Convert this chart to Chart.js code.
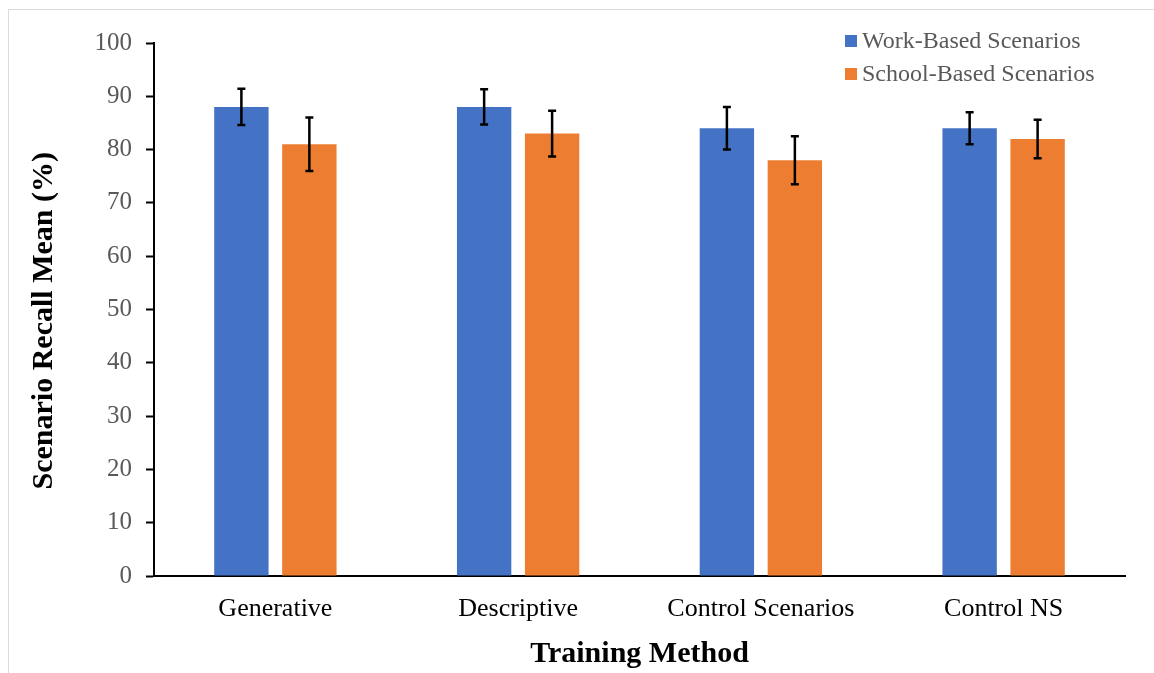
<!DOCTYPE html>
<html>
<head>
<meta charset="utf-8">
<script src="https://cdn.jsdelivr.net/npm/chart.js@4.4.1/dist/chart.umd.min.js"></script>
<style>
  body { margin: 0; background: #fff; }
  #wrap { position: relative; width: 1154px; height: 673px; }
  #frame { position: absolute; left: 8px; top: 9px; right: 0; bottom: 0;
           border-left: 1px solid #dcdcdc; border-top: 1px solid #dcdcdc; pointer-events: none; }
</style>
</head>
<body>
<div id="wrap">
  <canvas id="recallChart" width="1154" height="673"></canvas>
  <div id="frame"></div>
</div>
<script>
var methods = ["Generative", "Descriptive", "Control Scenarios", "Control NS"];
var workMeans = [88, 88, 84, 84];
var workErrors = [3.4, 3.3, 4, 3];
var schoolMeans = [81, 83, 78, 82];
var schoolErrors = [5, 4.3, 4.5, 3.6];
var yTicks = [0, 10, 20, 30, 40, 50, 60, 70, 80, 90, 100];

var serif = "'Liberation Serif', 'Times New Roman', serif";

// error bars drawn on top of each bar using the y scale
var errorBars = {
    id: 'errorBars',
    afterDatasetsDraw: function(chart) {
        var ctx = chart.ctx;
        var yScale = chart.scales.y;
        chart.data.datasets.forEach(function(ds, i) {
            var meta = chart.getDatasetMeta(i);
            meta.data.forEach(function(bar, j) {
                var v = ds.data[j], e = ds.errors[j];
                var top = yScale.getPixelForValue(v + e);
                var bot = yScale.getPixelForValue(v - e);
                ctx.save();
                ctx.strokeStyle = '#000';
                ctx.lineWidth = 2.5;
                ctx.beginPath();
                ctx.moveTo(bar.x, top); ctx.lineTo(bar.x, bot);
                ctx.moveTo(bar.x - 4, top); ctx.lineTo(bar.x + 4, top);
                ctx.moveTo(bar.x - 4, bot); ctx.lineTo(bar.x + 4, bot);
                ctx.stroke();
                ctx.restore();
            });
        });
    }
};

// legend stacked in the top-right corner of the plot
var cornerLegend = {
    id: 'cornerLegend',
    afterDraw: function(chart) {
        var ctx = chart.ctx;
        var x = chart.chartArea.right - 280;
        var y = 41;
        ctx.save();
        ctx.font = '24px ' + serif;
        ctx.textBaseline = 'middle';
        chart.data.datasets.forEach(function(ds, i) {
            var cy = y + i * 33;
            ctx.fillStyle = ds.backgroundColor;
            ctx.fillRect(x, cy - 6, 12, 12);
            ctx.fillStyle = '#595959';
            ctx.fillText(ds.label, x + 17, cy + 1);
        });
        ctx.restore();
    }
};

new Chart(document.getElementById('recallChart'), {
    type: 'bar',
    data: {
        labels: methods,
        datasets: [
            {
                label: 'Work-Based Scenarios',
                data: workMeans,
                errors: workErrors,
                backgroundColor: '#4472C4',
                categoryPercentage: 0.56,
                barPercentage: 0.8
            },
            {
                label: 'School-Based Scenarios',
                data: schoolMeans,
                errors: schoolErrors,
                backgroundColor: '#ED7D31',
                categoryPercentage: 0.56,
                barPercentage: 0.8
            }
        ]
    },
    options: {
        responsive: false,
        animation: false,
        layout: { padding: { left: 14, top: 43, right: 29, bottom: 0 } },
        plugins: {
            legend: { display: false },
            tooltip: { enabled: false }
        },
        scales: {
            x: {
                grid: { display: false, drawTicks: false },
                border: { color: '#000', width: 2 },
                ticks: { color: '#000', font: { family: serif, size: 26 }, padding: 18 },
                title: {
                    display: true,
                    text: 'Training Method',
                    color: '#000',
                    font: { family: serif, size: 30, weight: 'bold' },
                    padding: { top: 0, bottom: 1 }
                },
                afterFit: function(s) { s.height = 97; }
            },
            y: {
                min: 0,
                max: 100,
                afterBuildTicks: function(s) { s.ticks = yTicks.map(function(v) { return { value: v }; }); },
                grid: { drawOnChartArea: false, drawTicks: true, tickLength: 8, color: '#000', tickWidth: 2 },
                border: { color: '#000', width: 2 },
                ticks: { color: '#595959', font: { family: serif, size: 25 }, padding: 14 },
                title: {
                    display: true,
                    text: 'Scenario Recall Mean (%)   ',
                    color: '#000',
                    font: { family: serif, size: 30, weight: 'bold' },
                    padding: { top: 12, bottom: 0 }
                },
                afterFit: function(s) { s.width = 140; }
            }
        }
    },
    plugins: [errorBars, cornerLegend]
});
</script>
</body>
</html>
